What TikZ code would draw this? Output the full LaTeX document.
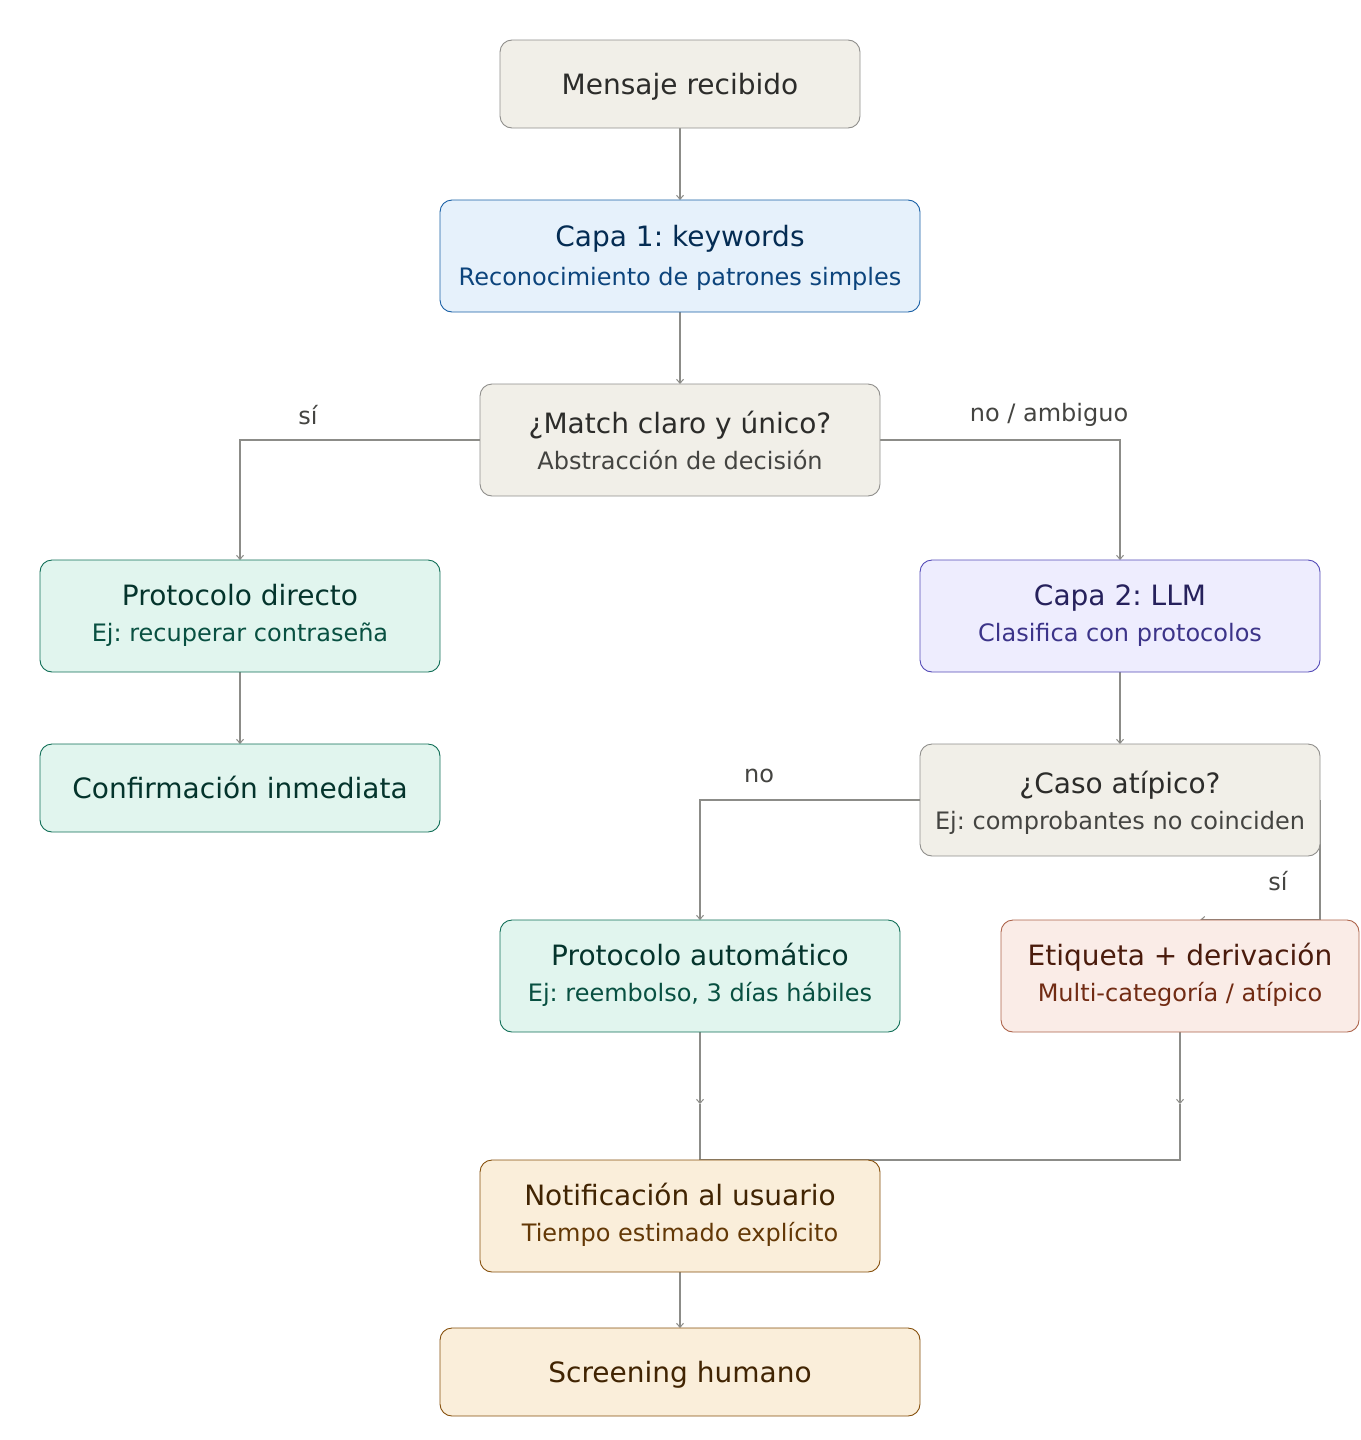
\documentclass[tikz,border=0pt]{standalone}
\usepackage{fontspec}
\setmainfont{DejaVu Sans}
\frenchspacing
\usetikzlibrary{arrows.meta,backgrounds}
\definecolor{grF}{HTML}{F1EFE8}\definecolor{grD}{HTML}{5F5E5A}\definecolor{grT}{HTML}{2C2C2A}\definecolor{grS}{HTML}{444441}
\definecolor{blF}{HTML}{E6F1FB}\definecolor{blD}{HTML}{185FA5}\definecolor{blT}{HTML}{042C53}\definecolor{blS}{HTML}{0C447C}
\definecolor{gnF}{HTML}{E1F5EE}\definecolor{gnD}{HTML}{0F6E56}\definecolor{gnT}{HTML}{04342C}\definecolor{gnS}{HTML}{085041}
\definecolor{puF}{HTML}{EEEDFE}\definecolor{puD}{HTML}{534AB7}\definecolor{puT}{HTML}{26215C}\definecolor{puS}{HTML}{3C3489}
\definecolor{coF}{HTML}{FAECE7}\definecolor{coD}{HTML}{993C1D}\definecolor{coT}{HTML}{4A1B0C}\definecolor{coS}{HTML}{712B13}
\definecolor{amF}{HTML}{FAEEDA}\definecolor{amD}{HTML}{854F0B}\definecolor{amT}{HTML}{412402}\definecolor{amS}{HTML}{633806}
\definecolor{lineC}{HTML}{8C8C88}
\tikzset{
  x=1pt,y=-1pt,
  box/.style={draw, line width=0.9pt, rounded corners=12pt, inner sep=0pt, outer sep=0pt},
  ttl/.style={font=\fontsize{28}{32}\selectfont, anchor=base, inner sep=0pt},
  sub/.style={font=\fontsize{24}{28}\selectfont, anchor=base, inner sep=0pt},
  lbl/.style={font=\fontsize{24}{28}\selectfont, text=grS, inner sep=0pt},
  conn/.style={draw=lineC, line width=1.3pt},
  arr/.style={conn, -{Straight Barb[length=4pt,width=7pt,line width=1pt]}},
}
\begin{document}
\begin{tikzpicture}
\useasboundingbox (0,0) rectangle (1360,1440);
% boxes
\node[box, draw=grD!70, fill=grF, minimum width=360pt, minimum height=88pt] (b1) at (680,84) {};
\node[box, draw=blD, fill=blF, minimum width=480pt, minimum height=112pt] (b2) at (680,256) {};
\node[box, draw=grD!70, fill=grF, minimum width=400pt, minimum height=112pt] (b3) at (680,440) {};
\node[box, draw=gnD, fill=gnF, minimum width=400pt, minimum height=112pt] (b4) at (240,616) {};
\node[box, draw=gnD, fill=gnF, minimum width=400pt, minimum height=88pt] (b5) at (240,788) {};
\node[box, draw=puD, fill=puF, minimum width=400pt, minimum height=112pt] (b6) at (1120,616) {};
\node[box, draw=grD!70, fill=grF, minimum width=400pt, minimum height=112pt] (b7) at (1120,800) {};
\node[box, draw=gnD, fill=gnF, minimum width=400pt, minimum height=112pt] (b8) at (700,976) {};
\node[box, draw=coD!80, fill=coF, minimum width=358pt, minimum height=112pt] (b9) at (1180,976) {};
\node[box, draw=amD, fill=amF, minimum width=400pt, minimum height=112pt] (b10) at (680,1216) {};
\node[box, draw=amD, fill=amF, minimum width=480pt, minimum height=88pt] (b11) at (680,1372) {};
% texts
\node[ttl, text=grT] (t1) at (680,94) {Mensaje recibido};
\node[ttl, text=blT] (t2) at (680,246) {Capa 1: keywords};
\node[sub, text=blS] (s2) at (680,285) {Reconocimiento de patrones simples};
\node[ttl, text=grT] (t3) at (680,433) {¿Match claro y único?};
\node[sub, text=grS] (s3) at (680,469) {Abstracción de decisión};
\node[ttl, text=gnT] (t4) at (240,605) {Protocolo directo};
\node[sub, text=gnS] (s4) at (240,641) {Ej: recuperar contraseña};
\node[ttl, text=gnT] (t5) at (240,798) {Confirmación inmediata};
\node[ttl, text=puT] (t6) at (1120,605) {Capa 2: LLM};
\node[sub, text=puS] (s6) at (1120,641) {Clasifica con protocolos};
\node[ttl, text=grT] (t7) at (1120,793) {¿Caso atípico?};
\node[sub, text=grS] (s7) at (1120,829) {Ej: comprobantes no coinciden};
\node[ttl, text=gnT] (t8) at (700,965) {Protocolo automático};
\node[sub, text=gnS] (s8) at (700,1001) {Ej: reembolso, 3 días hábiles};
\node[ttl, text=coT] (t9) at (1180,965) {Etiqueta + derivación};
\node[sub, text=coS] (s9) at (1180,1001) {Multi-categoría / atípico};
\node[ttl, text=amT] (t10) at (680,1205) {Notificación al usuario};
\node[sub, text=amS] (s10) at (680,1241) {Tiempo estimado explícito};
\node[ttl, text=amT] (t11) at (680,1382) {Screening humano};
% labels
\node[lbl] (l1) at (308,415) {sí};
\node[lbl] (l2) at (1049,415) {no / ambiguo};
\node[lbl] (l3) at (759,776) {no};
\node[lbl] (l4) at (1278,881) {sí};
% coordinates
\coordinate (m8) at (700,1104);
\coordinate (m9) at (1180,1104);
\coordinate (j9) at (1180,1160);
\coordinate (j8) at (700,1160);
\coordinate (c7r) at (1320,920);
\coordinate (c7t) at (1200,920);
\begin{scope}[on background layer]
\draw[arr] (b1.south) -- (b2.north);
\draw[arr] (b2.south) -- (b3.north);
\draw[arr] (b3.west) -| (b4.north);
\draw[arr] (b3.east) -| (b6.north);
\draw[arr] (b4.south) -- (b5.north);
\draw[arr] (b6.south) -- (b7.north);
\draw[arr] (b7.west) -| (b8.north);
\draw[arr] (b7.east) -- (c7r) -- (c7t);
\draw[arr] (b8.south) -- (m8);
\draw[conn] (m8) -- (j8);
\draw[arr] (b9.south) -- (m9);
\draw[conn] (m9) -- (j9) -- (j8);
\draw[arr] (b10.south) -- (b11.north);
\end{scope}
\end{tikzpicture}
\end{document}
